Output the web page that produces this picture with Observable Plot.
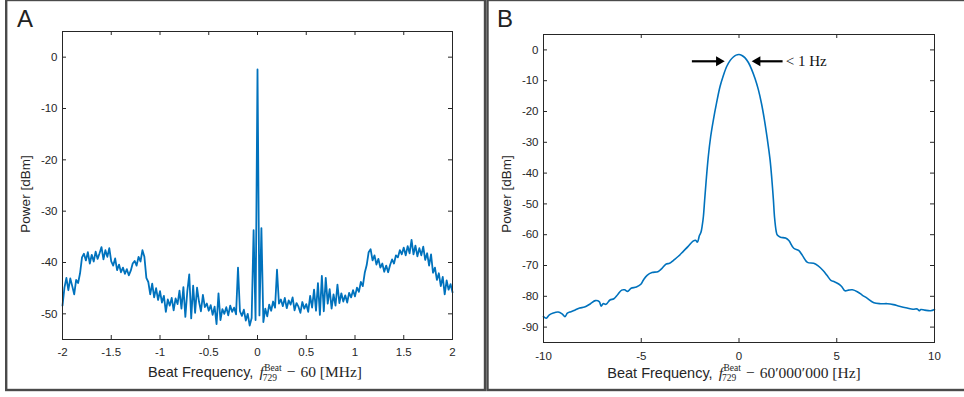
<!DOCTYPE html>
<html><head><meta charset="utf-8">
<script src="https://cdn.jsdelivr.net/npm/d3@7"></script>
<script src="https://cdn.jsdelivr.net/npm/@observablehq/plot@0.6"></script>
<style>
html,body{margin:0;padding:0;background:#fff;}
#wrap{position:relative;width:964px;height:397px;overflow:hidden;}
#wrap svg{position:absolute;top:0;}
</style></head><body><div id="wrap"></div>
<script>
// ---------- Panel A data (frequency offset in MHz, power in dBm) ----------
const freqStartA = -2, freqStepA = 0.02;
const powerA = [
 -48.4,-44.9,-43.0,-45.4,-43.1,-44.6,-46.2,-43.4,-44.0,-42.1,
 -39.0,-38.3,-39.6,-38.0,-40.2,-38.5,-39.8,-37.9,-39.3,-38.2,
 -37.0,-39.4,-37.6,-38.9,-37.2,-39.8,-40.6,-39.2,-41.5,-40.4,
 -41.9,-41.0,-42.2,-41.3,-42.5,-41.6,-40.2,-39.7,-40.6,-38.9,
 -39.8,-37.6,-38.9,-43.0,-43.8,-46.2,-44.1,-46.8,-45.0,-47.3,
 -45.6,-47.8,-46.5,-49.6,-47.2,-48.4,-46.9,-49.3,-47.0,-48.1,
 -45.5,-49.0,-44.8,-50.6,-45.6,-42.3,-50.9,-44.5,-49.8,-44.9,
 -47.6,-49.5,-46.3,-48.7,-48.0,-49.4,-48.3,-50.2,-48.6,-52.0,
 -46.0,-51.2,-49.1,-50.0,-48.7,-50.3,-48.4,-49.6,-48.8,-50.1,
 -41.0,-49.5,-50.4,-49.2,-51.3,-50.0,-52.3,-50.8,-33.7,-51.2,
 -2.4,-50.3,-33.3,-51.6,-49.0,-50.5,-48.2,-49.4,-47.6,-48.8,
 -41.4,-48.0,-47.2,-48.5,-46.9,-48.9,-47.4,-48.2,-46.8,-49.3,
 -47.9,-48.6,-49.8,-47.7,-49.0,-48.1,-49.6,-46.5,-48.8,-45.3,
 -49.4,-44.0,-50.2,-42.6,-49.5,-43.0,-48.0,-45.2,-49.0,-46.2,
 -48.4,-44.3,-47.9,-46.0,-47.6,-46.4,-47.8,-45.9,-46.8,-45.4,
 -46.6,-44.9,-45.7,-43.8,-44.6,-42.0,-40.5,-38.0,-37.4,-39.6,
 -38.6,-40.4,-39.3,-41.0,-40.2,-41.8,-40.6,-41.9,-40.5,-39.4,
 -40.2,-38.6,-39.0,-37.6,-38.4,-37.1,-38.6,-36.8,-38.2,-35.6,
 -38.4,-36.7,-38.8,-37.2,-38.6,-36.9,-39.5,-38.2,-40.6,-38.4,
 -42.0,-41.0,-43.4,-42.1,-44.6,-42.8,-46.2,-43.5,-45.3,-44.2,
 -45.8
];
const xTicksA = [-2,-1.5,-1,-0.5,0,0.5,1,1.5,2];
const yTicksA = [0,-10,-20,-30,-40,-50];

// ---------- Panel B data (frequency offset in Hz, power in dBm) ----------
const freqB = [
 -10.0,-9.86,-9.70,-9.50,-9.25,-9.05,-8.90,-8.78,-8.60,-8.40,
 -8.15,-7.90,-7.60,-7.35,-7.15,-7.05,-6.95,-6.80,-6.60,-6.40,
 -6.20,-6.00,-5.85,-5.70,-5.52,-5.25,-5.02,-4.88,-4.70,-4.45,
 -4.15,-3.95,-3.72,-3.55,-3.35,-3.10,-2.85,-2.60,-2.35,-2.22,
 -2.13,-2.02,-1.95,-1.88,-1.82,-1.76,-1.68,-1.57,-1.45,-1.31,
 -1.15,-0.97,-0.80,-0.63,-0.45,-0.29,-0.15,0.00,0.15,0.31,
 0.48,0.65,0.82,0.99,1.15,1.30,1.45,1.59,1.68,1.76,
 1.82,1.90,1.96,2.12,2.38,2.55,2.80,3.05,3.25,3.50,
 3.82,4.05,4.30,4.50,4.70,4.88,5.10,5.25,5.42,5.60,
 5.80,6.05,6.30,6.55,6.90,7.25,7.60,7.90,8.20,8.60,
 8.90,9.12,9.22,9.30,9.50,9.80,10.0
];
const powerB = [
 -86.6,-87.1,-86.0,-85.4,-85.1,-85.7,-86.6,-85.5,-85.0,-84.5,
 -83.8,-83.5,-82.4,-81.4,-81.7,-83.2,-82.4,-82.6,-81.2,-80.8,
 -79.4,-78.0,-77.9,-78.4,-77.4,-77.0,-76.1,-74.6,-73.2,-72.3,
 -72.0,-71.0,-69.5,-69.3,-68.3,-67.0,-65.4,-63.8,-62.1,-61.8,
 -62.4,-60.2,-59.3,-57.0,-54.0,-49.0,-42.5,-34.6,-28.2,-22.7,
 -17.3,-11.9,-8.3,-5.4,-3.4,-2.3,-1.7,-1.5,-1.8,-2.6,
 -4.1,-6.4,-9.3,-12.9,-17.4,-22.7,-29.0,-35.7,-42.0,-48.7,
 -54.5,-58.8,-60.1,-60.8,-61.1,-61.9,-64.4,-65.1,-66.8,-69.0,
 -69.3,-70.1,-71.6,-73.2,-74.8,-75.3,-76.0,-76.8,-78.2,-78.0,
 -77.9,-78.5,-79.6,-80.6,-82.1,-82.4,-82.4,-82.7,-83.2,-83.8,
 -84.2,-84.1,-84.7,-84.3,-84.5,-84.7,-84.3
];
const xTicksB = [-10,-5,0,5,10];
const yTicksB = [0,-10,-20,-30,-40,-50,-60,-70,-80,-90];
const arrowRightB = [{x1:-2.18, x2:-0.82, y:-3.7}];
const arrowLeftB  = [{x1:2.05, x2:0.74, y:-3.7}];
const noteB = [{x:2.39, y:-5.1, text:"< 1 Hz"}];

const sans = '"Liberation Sans", Arial, Helvetica, sans-serif';
const serif = '"Liberation Serif", "DejaVu Serif", serif';
const ink = "#262626";
const blue = "#0072BD";
const TL = 4; // tick length

const wrap = document.getElementById("wrap");

function inwardTicks(xt, yt, iw, ih) {
  return [
    Plot.tickX(xt, {x: d => d, insetTop: ih - TL, stroke: ink, strokeWidth: 1}),
    Plot.tickX(xt, {x: d => d, insetBottom: ih - TL, stroke: ink, strokeWidth: 1}),
    Plot.tickY(yt, {y: d => d, insetRight: iw - TL, stroke: ink, strokeWidth: 1}),
    Plot.tickY(yt, {y: d => d, insetLeft: iw - TL, stroke: ink, strokeWidth: 1})
  ];
}

// ---------- Panel A ----------
const A = {w: 486, h: 397, ml: 62, mr: 34, mt: 31, mb: 58};
const dataA = powerA.map((p, i) => ({f: freqStartA + i * freqStepA, p}));
const plotA = Plot.plot({
  width: A.w, height: A.h,
  marginLeft: A.ml, marginRight: A.mr, marginTop: A.mt, marginBottom: A.mb,
  style: {fontFamily: sans, fontSize: "11.5px", color: ink, background: "transparent", overflow: "visible"},
  x: {domain: [-2, 2], ticks: xTicksA, tickFormat: d => String(d), tickSize: 0, tickPadding: 8, label: null},
  y: {domain: [-55, 5], ticks: yTicksA, tickFormat: d => String(d), tickSize: 0, tickPadding: 5, label: null},
  marks: [
    Plot.line(dataA, {x: "f", y: "p", stroke: blue, strokeWidth: 1.8, strokeLinejoin: "round"}),
    Plot.frame({stroke: ink, strokeWidth: 1}),
    ...inwardTicks(xTicksA, yTicksA, A.w - A.ml - A.mr, A.h - A.mt - A.mb)
  ]
});
plotA.style.left = "0px";
wrap.appendChild(plotA);

// ---------- Panel B ----------
const B = {w: 478, h: 397, ml: 57, mr: 30, mt: 34, mb: 55};
const dataB = freqB.map((f, i) => ({f, p: powerB[i]}));
const plotB = Plot.plot({
  width: B.w, height: B.h,
  marginLeft: B.ml, marginRight: B.mr, marginTop: B.mt, marginBottom: B.mb,
  style: {fontFamily: sans, fontSize: "11.5px", color: ink, background: "transparent", overflow: "visible"},
  x: {domain: [-10, 10], ticks: xTicksB, tickFormat: d => String(d), tickSize: 0, tickPadding: 9, label: null},
  y: {domain: [-95, 5], ticks: yTicksB, tickFormat: d => String(d), tickSize: 0, tickPadding: 5, label: null},
  marks: [
    Plot.line(dataB, {x: "f", y: "p", stroke: blue, strokeWidth: 1.6, curve: "catmull-rom"}),
    Plot.frame({stroke: ink, strokeWidth: 1}),
    ...inwardTicks(xTicksB, yTicksB, B.w - B.ml - B.mr, B.h - B.mt - B.mb),
    Plot.ruleY(arrowRightB, {x1: "x1", x2: "x2", y: "y", stroke: "#000", strokeWidth: 2.2, dx: -4}),
    Plot.dot(arrowRightB, {x: "x2", y: "y", symbol: "triangle", r: 3.7, fill: "#000", stroke: "none", rotate: 90, dx: -4}),
    Plot.ruleY(arrowLeftB, {x1: "x1", x2: "x2", y: "y", stroke: "#000", strokeWidth: 2.2, dx: 4}),
    Plot.dot(arrowLeftB, {x: "x2", y: "y", symbol: "triangle", r: 3.7, fill: "#000", stroke: "none", rotate: -90, dx: 4}),
    Plot.text(noteB, {x: "x", y: "y", text: "text", textAnchor: "start", lineAnchor: "bottom", fontFamily: serif, fontSize: 15, fill: "#111"})
  ]
});
plotB.style.left = "486px";
wrap.appendChild(plotB);

// ---------- axis titles ----------
function yTitle(svg, x, y) {
  d3.select(svg).append("text")
    .attr("transform", `translate(${x},${y}) rotate(-90)`)
    .attr("text-anchor", "middle")
    .attr("font-family", sans).attr("font-size", 13.5).attr("fill", ink)
    .text("Power [dBm]");
}
function xTitle(svg, cx, base, tail) {
  const g = d3.select(svg).append("g").attr("fill", ink).attr("text-anchor", "start");
  const mk = (fam, size, x, y, s) => g.append("text").attr("text-anchor", "start")
    .attr("font-family", fam).attr("font-size", size).attr("x", x).attr("y", y).text(s);
  const t1 = mk(sans, 14.5, 0, base, "Beat Frequency,");
  let x = t1.node().getComputedTextLength() + 6;
  const tf = mk(serif, 15.5, x, base, "f").attr("font-style", "italic");
  const wf = tf.node().getComputedTextLength();
  const sup = mk(serif, 9.5, x + wf + 0.5, base - 6.2, "Beat");
  const sub = mk(serif, 9.5, x + wf - 1, base + 3.8, "729");
  x += wf + Math.max(sup.node().getComputedTextLength() + 0.5, sub.node().getComputedTextLength() - 1) + 5;
  const tm = mk(serif, 15.5, x, base, "\u2212");
  x += tm.node().getComputedTextLength() + 5;
  const tt = mk(serif, 15.5, x, base, tail);
  x += tt.node().getComputedTextLength();
  g.attr("transform", `translate(${cx - x / 2},0)`);
}
yTitle(plotA, 29.5, 194);
xTitle(plotA, 255, 377, "60 [MHz]");
yTitle(plotB, 25, 194);
xTitle(plotB, 248, 377.5, "60\u2032000\u2032000 [Hz]");

// ---------- panel frames and letters ----------
const ov = d3.select(wrap).append("svg").attr("width", 964).attr("height", 397)
  .style("left", "0px").style("pointer-events", "none");
ov.append("rect").attr("x", 6.2).attr("y", 0).attr("width", 478.8).attr("height", 390)
  .attr("fill", "none").attr("stroke", "#4a4a4a").attr("stroke-width", 2.4);
ov.append("rect").attr("x", 487.5).attr("y", 0).attr("width", 480).attr("height", 390)
  .attr("fill", "none").attr("stroke", "#4a4a4a").attr("stroke-width", 2.4);
ov.append("text").attr("x", 17).attr("y", 26.7).attr("font-family", sans).attr("font-size", 24).attr("fill", "#222").text("A");
ov.append("text").attr("x", 497).attr("y", 26.7).attr("font-family", sans).attr("font-size", 24).attr("fill", "#222").text("B");
</script></body></html>
